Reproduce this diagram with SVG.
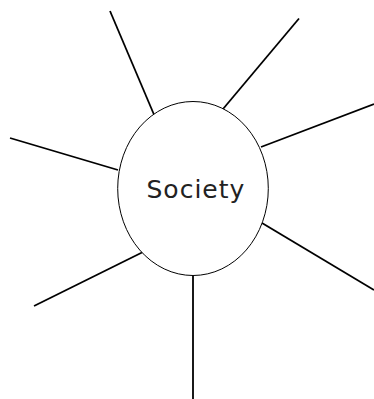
<svg xmlns="http://www.w3.org/2000/svg" width="374" height="399" viewBox="0 0 374 399">
<style>
.ray{stroke:#000;stroke-width:1.8;fill:none}
.node{fill:#fff;stroke:#000;stroke-width:1}
.lbl{font-family:"DejaVu Sans",sans-serif;font-size:25px;fill:#222;letter-spacing:1px}
</style>
<rect width="374" height="399" fill="#fff"/>
<g id="connectors">
<line class="ray" x1="110" y1="11" x2="155" y2="117"/>
<line class="ray" x1="299" y1="18.5" x2="223" y2="109"/>
<line class="ray" x1="374" y1="104" x2="261" y2="147"/>
<line class="ray" x1="10" y1="138" x2="118" y2="170"/>
<line class="ray" x1="262" y1="223" x2="374" y2="290"/>
<line class="ray" x1="142" y1="252.5" x2="34" y2="306"/>
<line class="ray" x1="193" y1="276" x2="193" y2="399"/>
</g>
<g id="society">
<ellipse class="node" cx="193" cy="188.5" rx="75.3" ry="87"/>
<text class="lbl" x="146.5" y="198">Society</text>
</g>
</svg>
